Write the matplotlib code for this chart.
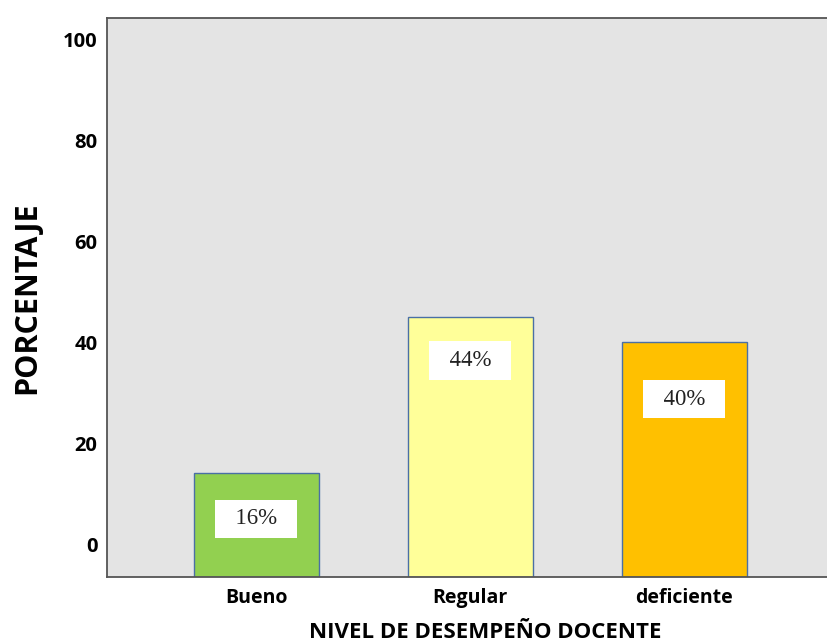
import matplotlib
matplotlib.use("Agg")
import matplotlib.pyplot as plt

categories = ["Bueno", "Regular", "deficiente"]
values = [14, 45, 40]
labels = ["16%", "44%", "40%"]
yticks = [0, 20, 40, 60, 80, 100]

colors = ["#92D050", "#FFFF99", "#FFC000"]
label_drop = [9.0, 8.6, 11.3]

fig = plt.figure(figsize=(8.28, 6.44), dpi=100)
ax = fig.add_axes([107 / 828, 1 - 577 / 644, (828 - 107) / 828, (577 - 18) / 644])
ax.set_facecolor("#E4E4E4")

ymin, ymax = -6.5, 104.2
ax.set_ylim(ymin, ymax)
ax.set_xlim(-0.699, 2.673)

x = list(range(len(categories)))
ax.bar(x, [v - ymin for v in values], bottom=ymin, width=0.584,
       color=colors, edgecolor="#4A6FA5", linewidth=1.0, zorder=2)

for xi, v, lab, d in zip(x, values, labels, label_drop):
    ax.text(xi, v - d, "  " + lab + "  ", ha="center", va="center", fontsize=16.5,
            family="Liberation Serif", color="#222222", zorder=3,
            bbox=dict(boxstyle="square,pad=0.38", facecolor="white", edgecolor="none"))

ax.set_yticks(yticks)
ax.set_yticklabels([str(t) for t in yticks], fontsize=14.5, fontweight="bold", family="Open Sans")
ax.set_xticks(x)
ax.set_xticklabels(categories, fontsize=14, fontweight="bold", family="Open Sans")
ax.tick_params(axis="both", length=0)
ax.tick_params(axis="y", pad=7)
ax.tick_params(axis="x", pad=8)

for s in ["left", "top", "bottom"]:
    ax.spines[s].set_color("#555555")
    ax.spines[s].set_linewidth(1.3)
ax.spines["right"].set_visible(False)

fig.text(485 / 828, 1 - 632 / 644, "NIVEL DE DESEMPEÑO DOCENTE", ha="center", va="center",
         fontsize=16, fontweight="bold", family="Open Sans")
fig.text(27 / 828, 1 - 298 / 644, "PORCENTAJE", ha="center", va="center", rotation=90,
         fontsize=22, fontweight="bold", family="Open Sans")

fig.savefig("out.png", dpi=100)
